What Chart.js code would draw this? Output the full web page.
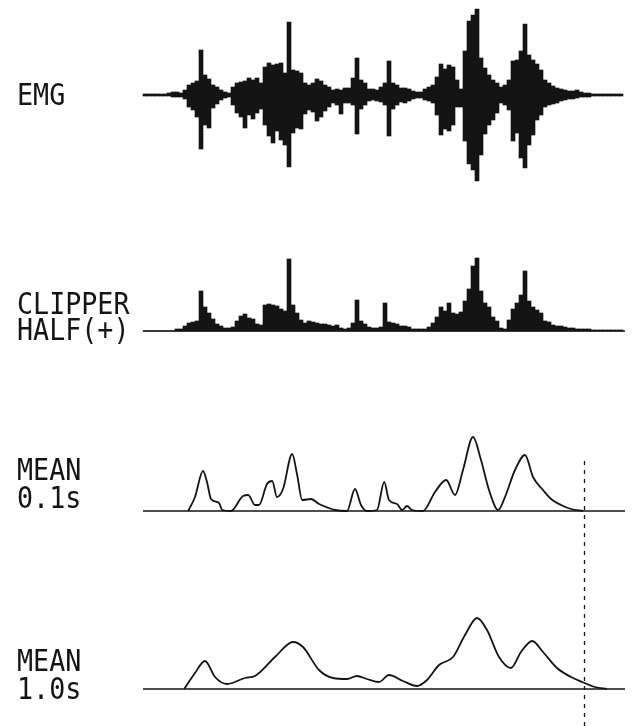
<!DOCTYPE html>
<html>
<head>
<meta charset="utf-8">
<script src="https://cdn.jsdelivr.net/npm/chart.js@4"></script>
<style>
  body { margin: 0; background: #fff; }
  #wrap { width: 633px; height: 726px; }
</style>
</head>
<body>
<div id="wrap"><canvas id="emgChart" width="633" height="726"></canvas></div>
<script>
// sample grid: 120 columns, 0.1 s apart
const sampleTime = Array.from({ length: 120 }, (_, i) => +(i * 0.1).toFixed(1));

// raw EMG envelope per column (upper / lower excursion)
const emgUp = [
  1, 1, 1, 1, 1, 1, 2, 3, 3, 2,
  5, 10, 12, 14, 45, 20, 16, 10, 8, 5,
  3, 2, 8, 12, 13, 14, 17, 15, 17, 12,
  28, 32, 30, 31, 32, 22, 73, 25, 24, 22,
  12, 10, 12, 16, 14, 10, 8, 5, 6, 5,
  7, 7, 17, 37, 15, 12, 6, 6, 5, 8,
  12, 34, 12, 10, 7, 7, 6, 4, 3, 3,
  6, 8, 10, 18, 31, 26, 30, 28, 15, 6,
  44, 74, 80, 86, 37, 27, 20, 15, 12, 8,
  10, 15, 34, 35, 44, 71, 40, 35, 31, 25,
  15, 12, 9, 7, 6, 5, 4, 4, 5, 3,
  2, 2, 1, 1, 1, 1, 1, 1, 1, 1
];
const emgDown = [
  1, 1, 1, 1, 1, 1, 1, 2, 2, 2,
  4, 12, 15, 22, 54, 30, 33, 13, 9, 5,
  3, 2, 10, 18, 22, 33, 20, 24, 18, 14,
  30, 41, 48, 36, 45, 50, 72, 38, 33, 34,
  19, 15, 17, 26, 22, 16, 12, 8, 10, 19,
  8, 8, 10, 39, 14, 10, 6, 5, 6, 7,
  10, 41, 14, 10, 7, 8, 6, 4, 3, 3,
  5, 6, 8, 20, 40, 34, 36, 30, 12, 12,
  46, 69, 75, 86, 60, 39, 30, 25, 18, 8,
  10, 15, 46, 38, 63, 73, 50, 40, 25, 20,
  12, 10, 9, 8, 6, 5, 4, 4, 3, 2,
  2, 2, 1, 1, 1, 1, 1, 1, 1, 1
];

// half-wave clipped signal
const clipper = [
  0, 0, 0, 0, 0, 0, 0, 0, 2, 2,
  5, 8, 9, 10, 40, 24, 18, 12, 7, 5,
  3, 3, 4, 10, 15, 17, 13, 12, 7, 6,
  26, 27, 26, 25, 22, 20, 72, 26, 18, 11,
  8, 10, 9, 8, 7, 7, 6, 5, 6, 3,
  2, 3, 8, 31, 10, 7, 4, 3, 3, 4,
  28, 9, 8, 7, 5, 5, 4, 2, 2, 2,
  2, 4, 8, 14, 24, 20, 28, 18, 17, 19,
  30, 42, 65, 73, 40, 28, 24, 14, 10, 3,
  2, 11, 22, 28, 36, 60, 30, 24, 21, 18,
  10, 9, 6, 5, 5, 4, 3, 3, 2, 2,
  2, 2, 1, 1, 1, 1, 1, 1, 1, 1
];

// moving mean, 0.1 s window
const meanFastTime = [1.08, 1.25, 1.45, 1.55, 1.65, 1.85, 1.93, 2.15, 2.45, 2.58, 2.75, 2.85, 3.05, 3.18, 3.30, 3.45, 3.68, 3.80, 3.93, 4.15,
  4.35, 4.60, 4.75, 5.05, 5.25, 5.40, 5.55, 5.80, 5.98, 6.10, 6.30, 6.43, 6.55, 6.68, 6.95, 7.25, 7.53, 7.75, 7.95, 8.20,
  8.40, 8.60, 8.83, 9.00, 9.25, 9.50, 9.70, 9.95, 10.15, 10.40, 10.65, 10.95];
const meanFastValue = [0, 14, 40, 29, 12, 8, 1, 0, 15, 16, 6, 6, 27, 30, 14, 22, 57, 37, 11, 12,
  7, 3, 1, 0, 22, 6, 0, 1, 29, 11, 7, 1, 5, 1, 0, 19, 31, 16, 41, 74,
  51, 21, 1, 14, 41, 56, 34, 21, 12, 6, 2, 0];

// moving mean, 1.0 s window
const meanSlowTime = [0.98, 1.25, 1.50, 1.75, 2.05, 2.50, 2.75, 3.25, 3.70, 3.95, 4.35, 4.70, 5.05, 5.30, 5.55, 5.85, 6.10, 6.45, 6.80, 7.05,
  7.35, 7.70, 8.00, 8.30, 8.55, 8.85, 9.15, 9.40, 9.68, 9.95, 10.30, 10.65, 10.93, 11.25, 11.55];
const meanSlowValue = [0, 16, 28, 12, 5, 11, 13, 32, 47, 42, 19, 11, 10, 13, 10, 7, 14, 8, 3, 9,
  24, 32, 54, 71, 59, 32, 21, 37, 48, 37, 21, 12, 7, 2, 0];

const traceStart = -0.05, traceEnd = 12.0;
const markerTime = 10.98;

// layout
const W = 633, H = 726;
const X0 = 145, PX_PER_S = 40;
function rowAxis(basePx) {
  return { type: 'linear', display: false, min: basePx - H, max: basePx };
}
const traceLabels = [
  { axis: 'yEmg', lines: ['EMG'], offsets: [10] },
  { axis: 'yClip', lines: ['CLIPPER', 'HALF(+)'], offsets: [-17, 9] },
  { axis: 'yFast', lines: ['MEAN', '0.1s'], offsets: [-31, -3] },
  { axis: 'ySlow', lines: ['MEAN', '1.0s'], offsets: [-18, 10] }
];
const ink = '#141414';

const pts = (xs, ys) => xs.map((x, i) => ({ x: x, y: ys[i] }));
const baseline = [traceStart, traceEnd].map(t => ({ x: t, y: 0 }));

const lineStyle = {
  type: 'line', borderColor: ink, borderWidth: 1.8, pointRadius: 0,
  fill: false, cubicInterpolationMode: 'monotone'
};

const overlay = {
  id: 'overlay',
  afterDatasetsDraw(chart) {
    const ctx = chart.ctx;
    ctx.save();
    ctx.fillStyle = ink;
    ctx.font = '30px "DejaVu Sans Mono"';
    ctx.textBaseline = 'alphabetic';
    traceLabels.forEach(l => {
      const y0 = chart.scales[l.axis].getPixelForValue(0);
      l.lines.forEach((txt, k) => {
        ctx.save();
        ctx.translate(17, y0 + l.offsets[k]);
        ctx.scale(0.89, 1);
        ctx.fillText(txt, 0, 0);
        ctx.restore();
      });
    });
    // event marker
    const mx = Math.round(chart.scales.x.getPixelForValue(markerTime)) + 0.5;
    ctx.strokeStyle = ink;
    ctx.lineWidth = 1.3;
    ctx.setLineDash([4, 5]);
    ctx.beginPath();
    ctx.moveTo(mx, chart.scales.yFast.getPixelForValue(50));
    ctx.lineTo(mx, chart.chartArea.bottom);
    ctx.stroke();
    ctx.restore();
  }
};

new Chart(document.getElementById('emgChart'), {
  type: 'bar',
  data: {
    datasets: [
      {
        label: 'EMG', yAxisID: 'yEmg',
        data: sampleTime.map((t, i) => ({ x: t, y: [-emgDown[i], emgUp[i]] })),
        backgroundColor: ink, borderWidth: 0, grouped: false,
        barPercentage: 1, categoryPercentage: 1
      },
      {
        label: 'Clipper half(+)', yAxisID: 'yClip',
        data: sampleTime.map((t, i) => ({ x: t, y: clipper[i] })),
        backgroundColor: ink, borderWidth: 0, grouped: false,
        barPercentage: 1, categoryPercentage: 1
      },
      { ...lineStyle, label: 'clip base', yAxisID: 'yClip', data: baseline, borderWidth: 1.5 },
      { ...lineStyle, label: 'Mean 0.1s', yAxisID: 'yFast', data: pts(meanFastTime, meanFastValue) },
      { ...lineStyle, label: 'fast base', yAxisID: 'yFast', data: baseline, borderWidth: 1.5 },
      { ...lineStyle, label: 'Mean 1.0s', yAxisID: 'ySlow', data: pts(meanSlowTime, meanSlowValue) },
      { ...lineStyle, label: 'slow base', yAxisID: 'ySlow', data: baseline, borderWidth: 1.5 }
    ]
  },
  options: {
    responsive: false,
    animation: false,
    layout: { padding: 0 },
    plugins: { legend: { display: false }, tooltip: { enabled: false } },
    scales: {
      x: { type: 'linear', display: false, offset: false, min: -X0 / PX_PER_S, max: (W - X0) / PX_PER_S },
      yEmg: rowAxis(95),
      yClip: rowAxis(331),
      yFast: rowAxis(511),
      ySlow: rowAxis(689)
    }
  },
  plugins: [overlay]
});
</script>
</body>
</html>
